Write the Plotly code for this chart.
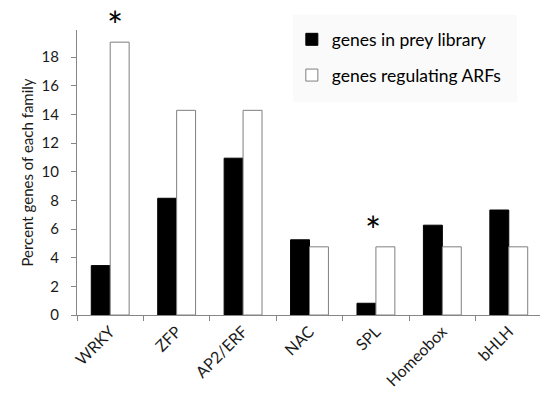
import plotly.graph_objects as go

FONT = "Lato, 'Open Sans', sans-serif"
AXIS_GRAY = "#868686"
TEXT = "#1a1a1a"

families = ["WRKY", "ZFP", "AP2/ERF", "NAC", "SPL", "Homeobox", "bHLH"]
prey_library = [3.45, 8.15, 10.95, 5.25, 0.82, 6.27, 7.33]
regulating_arfs = [19.05, 14.29, 14.29, 4.76, 4.76, 4.76, 4.76]
starred = ["WRKY", "SPL"]
y_ticks = [0, 2, 4, 6, 8, 10, 12, 14, 16, 18]

fig = go.Figure()

fig.add_trace(
    go.Bar(
        x=families,
        y=prey_library,
        name="genes in prey library",
        marker=dict(color="black", line=dict(color="black", width=1)),
        legendgroup="a",
    )
)
fig.add_trace(
    go.Bar(
        x=families,
        y=regulating_arfs,
        name="genes regulating ARFs",
        marker=dict(color="white", line=dict(color="#7f7f7f", width=1)),
        legendgroup="b",
    )
)

# significance stars above the white bars (hand placed in the original)
for fam, dx in zip(starred, [5, -3]):
    i = families.index(fam)
    fig.add_annotation(
        x=fam,
        y=regulating_arfs[i],
        text="*",
        showarrow=False,
        xanchor="center",
        yanchor="bottom",
        xshift=dx,
        yshift=-8,
        font=dict(family=FONT, size=38, color="black"),
    )

# light legend panel, like the Excel chart
fig.add_shape(
    type="rect",
    xref="paper",
    yref="paper",
    x0=0.4665,
    x1=0.95,
    y0=0.747,
    y1=1.0526,
    fillcolor="#fafafa",
    line=dict(width=0),
    layer="below",
)

fig.update_layout(
    width=540,
    height=403,
    margin=dict(l=77, r=0, t=30, b=88),
    plot_bgcolor="rgba(0,0,0,0)",
    paper_bgcolor="white",
    font=dict(family=FONT, size=16, color=TEXT),
    barmode="group",
    bargap=0.43,
    bargroupgap=0,
    showlegend=True,
    legend=dict(
        x=0.464,
        y=1.03,
        xanchor="left",
        yanchor="top",
        bgcolor="rgba(0,0,0,0)",
        font=dict(family=FONT, size=17.5, color="black"),
        tracegroupgap=10,
        traceorder="grouped",
    ),
)

fig.update_xaxes(
    range=[-0.5, 6.47],
    automargin=False,
    showline=True,
    linecolor=AXIS_GRAY,
    linewidth=1,
    ticks="outside",
    tickson="boundaries",
    ticklen=5,
    tickcolor=AXIS_GRAY,
    tickangle=-45,
    tickfont=dict(family=FONT, size=16, color=TEXT),
    showgrid=False,
)
fig.update_yaxes(
    range=[0, 19.9],
    automargin=False,
    tickvals=y_ticks,
    showline=True,
    linecolor=AXIS_GRAY,
    linewidth=1,
    ticks="outside",
    ticklen=5,
    tickcolor=AXIS_GRAY,
    tickfont=dict(family=FONT, size=15, color=TEXT),
    ticklabelstandoff=9,
    showgrid=False,
    zeroline=False,
    title=dict(text="Percent genes of each family", font=dict(family=FONT, size=15), standoff=4),
)

fig.write_html(
    "out.html",
    config={"displayModeBar": False},
    post_script="document.body.style.margin='0';",
)
